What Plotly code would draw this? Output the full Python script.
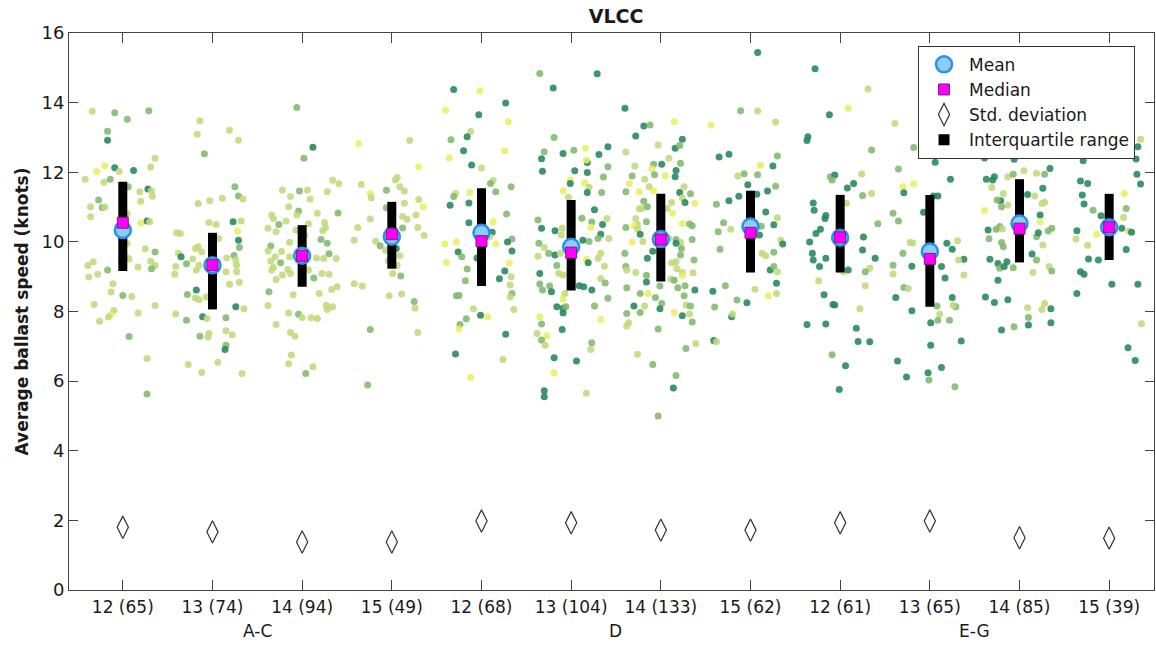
import plotly.graph_objects as go

# ---------------- data ----------------
categories = ["12 (65)", "13 (74)", "14 (94)", "15 (49)",
              "12 (68)", "13 (104)", "14 (133)", "15 (62)",
              "12 (61)", "13 (65)", "14 (85)", "15 (39)"]
groups = ["A-C", "D", "E-G"]
group_pos = [2.5, 6.5, 10.5]

mean_vals = [10.34, 9.33, 9.60, 10.15, 10.26, 9.86, 10.08, 10.44, 10.12, 9.72, 10.53, 10.42]
median_vals = [10.55, 9.33, 9.60, 10.22, 10.02, 9.69, 10.07, 10.26, 10.13, 9.51, 10.38, 10.42]
q1_vals = [9.16, 8.06, 8.71, 9.23, 8.73, 8.60, 8.86, 9.12, 9.12, 8.14, 9.41, 9.48]
q3_vals = [11.73, 10.26, 10.48, 11.15, 11.54, 11.20, 11.38, 11.47, 11.35, 11.35, 11.80, 11.38]
std_vals = [1.80, 1.67, 1.38, 1.38, 1.98, 1.93, 1.72, 1.72, 1.93, 1.98, 1.50, 1.49]

# individual ships: (offset from category, speed, shade class 0=yellow .. 3=dark green)
pts_1 = [(-0.34,13.75,1),(-0.09,13.71,2),(0.05,13.52,2),(0.29,13.77,2),(-0.17,13.18,2),(-0.17,12.92,3),
         (0.36,12.40,1),(0.31,12.15,1),(-0.20,12.19,0),(-0.29,12.02,0),(-0.09,12.13,3),(-0.04,12.02,1),
         (0.12,12.05,3),(-0.42,11.80,1),(-0.21,11.71,1),(-0.14,11.80,2),(0.28,11.52,3),(0.32,11.47,1),
         (0.19,11.44,1),(0.06,11.58,2),(0.33,11.31,1),(0.20,11.17,1),(-0.27,11.20,2),(-0.36,11.01,1),
         (-0.23,10.99,2),(-0.20,11.00,1),(-0.36,10.72,1),(0.27,10.60,3),(0.20,10.54,0),(0.30,10.58,1),
         (0.25,9.80,1),(0.36,9.71,2),(0.07,9.51,1),(0.31,9.44,1),(0.36,9.32,1),(0.32,9.23,2),(0.17,9.28,1),
         (-0.39,9.32,1),(-0.33,9.43,1),(-0.38,8.99,1),(-0.28,9.07,1),(-0.17,9.19,2),(-0.11,8.80,1),
         (-0.13,8.56,1),(0.00,8.46,2),(0.10,8.43,1),(-0.32,8.20,1),(0.36,8.17,1),(0.17,7.96,1),
         (-0.10,8.03,1),(-0.13,7.91,0),(-0.16,7.84,1),(-0.26,7.72,1),(0.07,7.28,2),(0.27,6.65,1),
         (0.27,5.63,2),(0.05,10.80,1),(0.05,9.95,1),(0.04,9.55,1)]
pts_2 = [(-0.14,13.48,1),(-0.17,13.09,1),(0.19,13.21,1),(0.29,12.92,1),(-0.09,12.53,2),(0.25,11.58,2),
         (0.29,11.32,2),(0.34,11.23,1),(0.11,11.25,1),(-0.03,11.18,1),(-0.16,11.10,1),(-0.04,10.56,1),
         (0.04,10.50,1),(0.23,10.58,3),(0.32,10.60,1),(0.28,10.31,0),(0.29,10.05,3),(0.30,9.84,2),
         (0.07,10.10,1),(-0.40,10.26,1),(-0.36,10.24,1),(-0.38,9.67,1),(-0.35,9.57,3),(-0.29,9.37,2),
         (-0.22,9.51,1),(-0.19,9.81,1),(-0.16,9.86,1),(-0.12,9.71,1),(-0.18,9.19,1),(-0.15,9.33,1),
         (-0.41,9.29,1),(-0.42,9.07,1),(0.16,9.54,1),(0.24,9.61,2),(0.26,9.48,1),(0.27,9.33,1),
         (0.27,9.14,1),(0.15,9.14,1),(0.19,8.78,1),(0.30,8.84,1),(-0.18,8.62,3),(-0.28,8.49,2),
         (-0.19,8.39,1),(-0.15,8.34,1),(-0.07,8.42,1),(0.26,8.14,3),(0.35,8.08,1),(-0.41,7.93,1),
         (-0.29,7.75,2),(-0.11,7.85,3),(-0.06,7.80,1),(0.15,7.82,2),(0.15,7.45,1),(0.22,7.33,1),
         (-0.14,7.29,2),(-0.04,7.37,1),(-0.05,7.27,1),(0.15,7.03,2),(0.14,6.91,3),(0.06,6.54,1),
         (-0.27,6.48,1),(-0.12,6.25,1),(0.33,6.22,1)]
pts_3 = [(-0.06,13.86,2),(0.12,12.72,3),(0.02,12.40,2),(0.34,11.77,1),(0.41,11.67,1),(-0.03,11.46,2),
         (0.06,11.49,1),(-0.22,11.49,1),(-0.13,11.30,1),(0.09,11.23,1),(0.28,11.44,1),(-0.15,11.01,1),
         (-0.04,10.89,2),(-0.06,10.77,1),(0.17,10.82,1),(0.40,10.83,2),(-0.34,10.77,1),(-0.32,10.67,1),
         (-0.18,10.60,1),(0.07,10.52,1),(0.25,10.56,1),(-0.26,10.50,2),(-0.38,10.39,1),(-0.29,10.29,1),
         (-0.07,10.34,1),(0.23,10.32,1),(0.26,10.41,1),(0.03,10.20,1),(0.21,10.07,2),(0.28,9.96,2),
         (-0.35,9.88,2),(-0.14,9.99,1),(-0.38,9.74,1),(-0.23,9.72,1),(-0.14,9.57,1),(-0.30,9.57,1),
         (0.30,9.66,2),(0.16,9.54,1),(0.24,9.52,1),(0.38,9.52,1),(-0.35,9.45,1),(-0.32,9.27,1),
         (-0.24,9.40,2),(-0.34,9.19,1),(-0.16,9.21,1),(0.07,9.19,1),(0.22,9.09,1),(0.30,9.07,1),
         (0.13,8.96,2),(-0.29,8.92,1),(-0.22,9.05,1),(-0.13,9.09,1),(-0.37,8.57,2),(-0.10,8.48,1),
         (0.19,8.52,1),(0.33,8.63,1),(0.39,8.71,1),(-0.38,8.17,1),(-0.04,7.92,2),(-0.15,7.96,1),
         (0.00,7.83,1),(0.10,7.82,1),(0.17,7.80,1),(0.28,8.06,1),(0.27,8.18,1),(0.34,8.14,1),
         (-0.29,7.63,1),(-0.13,7.40,1),(-0.08,7.29,1),(-0.12,6.75,1),(-0.15,6.50,1),(0.12,6.41,1),
         (0.04,6.22,2)]
pts_4 = [(0.20,12.91,1),(-0.37,12.82,0),(0.30,12.16,0),(0.06,11.85,1),(0.04,11.78,1),(-0.34,11.65,1),
         (-0.06,11.48,2),(0.09,11.58,1),(0.14,11.46,1),(-0.24,11.39,0),(-0.23,11.27,1),(0.14,11.11,1),
         (0.30,11.22,1),(0.35,11.01,0),(-0.06,10.98,2),(0.27,10.77,1),(0.17,10.65,1),(-0.24,10.66,1),
         (0.12,10.73,1),(-0.38,10.41,1),(0.29,10.41,1),(0.36,10.18,1),(0.12,10.40,2),(-0.18,10.02,1),
         (-0.13,9.89,2),(-0.42,10.05,1),(-0.07,9.76,1),(0.09,9.60,1),(-0.04,9.46,1),(0.06,9.33,1),
         (0.01,9.09,1),(0.10,9.02,2),(-0.42,8.80,1),(-0.33,8.73,1),(-0.03,8.45,1),(0.11,8.50,1),
         (0.25,8.29,2),(0.26,8.10,1),(-0.24,7.48,2),(0.29,7.40,1),(-0.27,5.89,2),(0.05,9.81,3)]
pts_5 = [(-0.31,14.38,3),(-0.02,14.34,0),(0.27,13.99,3),(-0.40,13.78,0),(-0.03,13.65,3),(0.30,13.45,0),
         (-0.12,13.17,1),(-0.16,13.02,3),(-0.34,12.93,2),(-0.20,12.62,3),(0.26,12.61,0),(-0.36,12.41,0),
         (-0.11,12.21,3),(0.00,12.12,1),(0.13,11.76,1),(0.10,11.68,2),(0.33,11.58,2),(0.16,11.44,2),
         (-0.29,11.39,1),(-0.31,11.30,2),(-0.13,11.42,0),(-0.35,11.05,3),(-0.14,11.12,3),(0.28,10.80,2),
         (-0.14,10.55,3),(0.13,10.58,0),(0.12,10.28,3),(0.09,10.15,1),(-0.41,9.94,0),(-0.28,10.00,0),
         (0.16,9.94,0),(0.34,10.08,2),(0.29,10.00,3),(-0.26,9.71,3),(-0.22,9.57,2),(-0.05,9.54,3),
         (0.34,9.74,3),(-0.39,9.41,0),(0.31,9.40,0),(-0.16,9.22,2),(0.26,9.16,3),(0.20,8.94,3),
         (-0.18,8.88,2),(0.33,9.00,1),(0.32,8.76,1),(0.34,8.52,2),(0.32,8.42,1),(-0.28,8.45,2),
         (-0.25,8.46,2),(-0.09,8.08,1),(0.36,8.06,1),(-0.01,7.89,3),(0.07,7.85,0),(-0.17,7.79,2),
         (-0.24,7.63,2),(-0.25,7.50,0),(0.27,7.35,3),(-0.29,6.78,3),(0.24,6.62,1),(-0.12,6.11,0)]
pts_6 = [(-0.35,14.84,2),(0.29,14.83,3),(-0.20,14.42,3),(-0.19,13.00,2),(0.41,12.73,3),(0.16,12.69,0),
         (0.03,12.63,2),(-0.30,12.59,2),(-0.09,12.54,3),(-0.33,12.39,3),(0.31,12.51,3),(0.18,12.28,3),
         (0.17,12.35,0),(0.41,12.16,2),(-0.32,12.03,3),(0.04,12.04,3),(0.18,11.99,3),(0.36,11.86,2),
         (-0.01,11.78,0),(-0.01,11.68,3),(0.15,11.70,0),(0.20,11.57,1),(-0.09,11.47,0),(0.18,11.42,3),
         (0.34,11.42,2),(-0.03,11.28,1),(0.26,10.92,3),(0.40,10.67,1),(0.12,10.68,2),(0.23,10.57,2),
         (-0.37,10.63,2),(-0.33,10.39,3),(-0.18,10.32,3),(-0.10,10.39,1),(-0.11,10.20,1),(0.22,10.42,0),
         (0.35,10.50,3),(0.33,10.22,3),(0.30,10.10,2),(0.20,10.01,2),(0.13,10.05,3),(0.42,10.10,1),
         (-0.36,9.96,2),(-0.30,9.84,1),(-0.25,9.67,2),(-0.18,9.62,3),(-0.12,9.67,1),(-0.37,9.59,1),
         (-0.16,9.32,2),(0.33,9.67,1),(0.30,9.53,1),(0.37,9.30,1),(0.17,9.50,0),(0.19,9.40,3),
         (-0.35,9.09,3),(-0.14,9.10,1),(-0.09,9.05,1),(-0.35,8.79,2),(-0.32,8.62,2),(-0.24,8.73,2),
         (-0.22,8.57,3),(0.09,8.74,3),(0.14,8.71,3),(0.23,8.62,3),(0.33,8.95,1),(0.38,8.82,2),
         (-0.07,8.52,1),(-0.09,8.36,0),(0.41,8.38,2),(-0.16,8.14,3),(-0.09,8.09,3),(-0.06,8.14,2),
         (-0.09,7.96,3),(0.26,8.16,2),(0.33,7.77,0),(-0.35,7.85,0),(-0.33,7.64,2),(-0.10,7.48,3),
         (-0.38,7.37,1),(-0.27,7.30,0),(-0.33,7.18,2),(-0.29,7.03,1),(0.23,7.10,2),(0.22,6.91,1),
         (-0.19,6.67,3),(0.06,6.58,3),(-0.19,6.24,0),(-0.30,5.72,3),(-0.30,5.55,3),(0.17,5.65,1)]
pts_7 = [(-0.40,13.84,3),(-0.19,13.33,3),(-0.12,13.36,2),(0.15,13.45,0),(-0.28,13.04,3),(-0.03,12.78,1),
         (0.24,12.95,3),(0.16,12.69,3),(0.21,12.77,2),(-0.39,12.58,1),(0.09,12.40,1),(-0.08,12.23,2),
         (0.01,12.23,3),(-0.10,12.10,0),(0.22,12.26,2),(-0.29,12.18,1),(0.17,12.05,3),(-0.32,11.89,2),
         (-0.07,11.93,2),(0.05,11.90,0),(-0.18,11.80,1),(0.16,11.87,3),(-0.35,11.68,0),(-0.13,11.58,1),
         (0.26,11.58,1),(-0.08,11.47,0),(-0.39,11.44,2),(-0.24,11.44,0),(0.21,11.42,3),(0.33,11.38,2),
         (0.24,11.26,1),(0.27,11.13,3),(0.38,11.10,0),(-0.19,11.17,2),(-0.21,10.96,1),(-0.15,11.01,2),
         (0.12,11.13,1),(-0.24,10.95,1),(0.07,10.96,1),(0.13,10.82,0),(-0.39,10.41,2),(-0.28,10.67,1),
         (-0.26,10.50,1),(-0.16,10.58,2),(-0.30,10.46,0),(-0.26,10.37,1),(-0.23,10.22,3),(0.24,10.53,0),
         (0.32,10.51,2),(0.35,10.46,2),(-0.32,10.00,0),(-0.20,10.01,1),(0.09,10.10,1),(0.17,10.07,2),
         (0.22,9.99,1),(0.17,9.96,3),(0.23,9.81,2),(0.35,10.07,2),(-0.40,9.67,2),(-0.09,9.73,3),
         (0.22,9.62,2),(-0.15,9.53,3),(0.12,9.40,1),(0.17,9.43,1),(0.37,9.48,2),(0.18,9.23,1),
         (0.24,9.12,1),(-0.39,9.29,2),(-0.28,9.12,1),(-0.38,9.19,1),(-0.16,9.04,2),(0.24,9.03,0),
         (0.36,9.11,1),(0.11,8.93,1),(0.15,8.90,2),(-0.16,8.85,3),(-0.01,8.73,2),(0.27,8.74,2),
         (0.19,8.68,2),(-0.38,8.68,2),(0.38,8.62,3),(-0.23,8.52,2),(-0.14,8.52,0),(-0.06,8.40,2),
         (0.26,8.45,2),(0.01,8.23,2),(-0.30,8.16,3),(-0.18,8.16,1),(-0.01,8.08,3),(-0.38,7.94,2),
         (-0.23,7.97,2),(0.28,8.19,1),(0.33,8.16,2),(0.15,7.97,0),(0.24,7.88,3),(0.32,7.93,1),
         (-0.36,7.68,1),(-0.38,7.58,1),(0.35,7.70,2),(-0.03,7.50,2),(0.28,6.94,2),(0.39,7.08,1),
         (-0.26,6.77,1),(-0.09,6.48,2),(0.17,6.16,2),(0.14,5.80,3),(-0.03,5.00,2)]
pts_8 = [(0.08,15.44,3),(-0.11,13.77,2),(0.08,13.76,1),(-0.44,13.36,0),(0.28,13.44,1),(-0.35,12.44,3),
         (-0.24,12.52,3),(0.30,12.47,2),(0.11,12.20,0),(0.25,12.18,3),(-0.07,11.96,2),(-0.14,11.89,1),
         (0.08,11.93,2),(0.28,11.60,2),(-0.03,11.64,3),(0.19,11.46,3),(0.07,11.37,3),(-0.13,11.31,3),
         (-0.24,11.18,3),(-0.38,11.08,2),(0.17,10.86,3),(0.30,10.69,1),(-0.30,10.55,2),(-0.22,10.36,1),
         (-0.36,10.29,2),(0.26,10.49,3),(0.12,10.45,2),(0.10,10.20,3),(0.34,10.05,1),(0.36,9.94,3),
         (-0.34,9.79,2),(0.13,9.67,1),(0.17,9.60,1),(0.26,9.70,2),(0.22,9.19,3),(0.26,9.29,2),
         (0.30,9.14,1),(0.29,8.81,3),(0.29,8.52,1),(0.20,8.45,0),(0.05,8.64,1),(-0.28,8.74,2),
         (-0.42,8.58,3),(-0.15,8.33,2),(-0.04,8.25,3),(-0.40,8.13,2),(-0.21,7.85,3),(-0.20,7.93,1),
         (-0.41,7.17,3),(-0.38,7.13,1)]
pts_9 = [(-0.28,14.97,3),(0.31,14.39,1),(0.09,13.84,0),(-0.12,13.65,3),(-0.36,13.02,3),(-0.37,12.91,3),
         (0.35,12.64,2),(-0.11,11.87,2),(-0.06,11.92,3),(-0.09,11.78,2),(0.24,11.95,1),(0.15,11.68,3),
         (0.08,11.55,3),(0.25,11.33,2),(0.35,11.39,1),(-0.30,11.12,3),(-0.29,10.91,3),(-0.16,10.76,3),
         (-0.17,10.67,3),(0.07,11.11,1),(0.42,10.52,2),(-0.22,10.36,3),(-0.27,10.24,3),(-0.34,10.00,3),
         (0.26,10.14,3),(-0.31,9.67,3),(-0.16,9.53,3),(-0.30,9.48,3),(-0.23,9.29,3),(0.25,9.77,3),
         (0.39,9.53,3),(0.04,9.14,1),(0.09,9.19,3),(0.33,9.24,1),(0.28,9.14,2),(-0.24,8.88,1),
         (0.28,8.74,1),(-0.18,8.48,3),(-0.08,8.20,3),(-0.06,8.19,3),(0.22,8.08,1),(-0.37,7.63,3),
         (-0.16,7.64,3),(0.18,7.52,3),(0.20,7.14,3),(0.33,7.13,3),(-0.09,6.76,2),(0.06,6.44,3),
         (-0.01,5.76,3)]
pts_10 = [(-0.39,13.40,1),(-0.18,12.71,2),(-0.04,12.69,3),(0.00,12.58,3),(0.06,12.29,3),(0.24,12.52,0),
          (0.37,12.66,0),(0.33,12.73,3),(-0.35,12.09,2),(0.23,11.80,3),(-0.30,11.58,0),(-0.18,11.66,0),
          (-0.29,11.41,3),(0.04,11.32,3),(0.09,11.32,3),(-0.41,10.82,2),(-0.35,10.60,2),(-0.07,10.85,3),
          (-0.22,9.98,1),(-0.19,9.97,1),(-0.30,9.67,2),(-0.41,9.33,2),(-0.20,9.30,3),(-0.41,9.08,1),
          (0.13,9.29,3),(0.17,8.96,3),(0.19,9.96,3),(0.25,9.79,3),(0.31,10.03,1),(0.38,9.50,3),
          (0.32,9.48,1),(0.38,9.05,1),(-0.29,8.69,2),(-0.24,8.66,1),(-0.38,8.40,3),(-0.20,8.02,3),
          (0.08,8.16,2),(0.25,8.40,3),(0.29,8.14,2),(0.26,8.18,1),(0.11,7.93,1),(0.09,7.75,2),
          (0.22,7.75,2),(0.01,7.68,3),(0.35,7.15,3),(0.01,7.03,3),(-0.36,6.58,3),(0.13,6.39,3),
          (-0.02,6.24,3),(-0.01,6.03,2),(-0.26,6.12,3),(0.28,5.84,2)]
pts_11 = [(-0.13,12.75,1),(0.11,12.49,0),(0.38,12.81,3),(-0.39,12.41,3),(-0.06,12.37,3),(-0.37,11.80,3),
          (-0.28,11.87,3),(-0.30,11.78,3),(-0.13,11.87,1),(-0.07,11.94,2),(0.05,12.04,1),(0.19,11.97,1),
          (0.28,11.94,2),(0.34,12.11,3),(0.26,11.54,3),(-0.31,11.56,1),(-0.18,11.39,1),(-0.21,11.18,3),
          (-0.25,11.20,2),(-0.13,11.06,1),(0.09,11.36,3),(0.17,11.32,1),(0.28,11.14,1),(0.25,11.10,1),
          (-0.39,10.90,0),(-0.20,11.01,2),(0.23,10.77,3),(0.23,10.58,0),(-0.22,10.44,2),(-0.19,10.37,1),
          (-0.26,10.36,2),(-0.35,10.34,3),(-0.34,10.09,2),(0.19,10.15,2),(0.21,10.26,3),(0.32,10.31,2),
          (0.36,10.39,2),(-0.20,9.98,2),(-0.18,9.86,2),(0.26,9.91,1),(0.14,9.65,3),(-0.33,9.50,3),
          (-0.24,9.38,3),(-0.22,9.24,2),(-0.17,9.29,3),(-0.07,9.26,2),(-0.14,9.43,3),(0.19,9.48,2),
          (0.33,9.29,1),(0.36,9.16,2),(0.15,9.12,1),(-0.24,8.90,3),(-0.38,8.42,3),(-0.28,8.26,3),
          (-0.13,8.34,3),(0.09,8.11,1),(0.28,8.23,1),(0.25,8.06,1),(0.35,8.08,3),(0.10,7.83,2),
          (0.10,7.61,3),(-0.06,7.56,2),(-0.20,7.47,3),(0.35,7.68,3),(-0.25,13.10,3),(0.10,13.30,2),
          (0.30,12.95,1),(-0.05,13.60,3)]
pts_12 = [(0.09,12.64,1),(0.13,12.67,1),(0.30,12.38,3),(-0.29,12.33,3),(0.31,11.94,3),(0.35,11.66,3),
          (-0.32,11.75,3),(-0.24,11.68,3),(0.17,11.39,0),(-0.30,11.35,3),(-0.28,11.09,3),(-0.18,10.91,2),
          (0.19,10.96,2),(-0.09,10.75,3),(0.16,10.70,1),(0.22,10.31,1),(0.25,10.28,3),(0.14,10.39,3),
          (-0.36,10.32,3),(-0.37,10.08,1),(-0.24,9.90,1),(-0.14,10.22,0),(0.19,9.78,3),(-0.23,9.51,3),
          (-0.12,9.48,3),(-0.32,9.14,3),(-0.28,9.07,3),(0.03,8.78,3),(0.32,8.78,3),(-0.36,8.52,3),
          (0.36,7.65,1),(0.21,6.96,3),(0.29,6.59,3),(0.32,12.73,3),(-0.27,12.60,3),(0.35,12.95,1)]

all_points = [pts_1, pts_2, pts_3, pts_4, pts_5, pts_6, pts_7, pts_8, pts_9, pts_10, pts_11, pts_12]

# ---------------- figure ----------------
FONT = "DejaVu Sans, Verdana, sans-serif"
TXT = "#1a1a1a"
AX = "#444444"
shade_scale = [[0.0, "#e8ef62"], [0.333, "#c0d97a"], [0.667, "#82b86e"], [1.0, "#24885a"]]

px, py, pc = [], [], []
for i, pts in enumerate(all_points, start=1):
    for dx, y, c in pts:
        px.append(i + dx)
        py.append(y)
        pc.append(c)

xpos = list(range(1, len(categories) + 1))

fig = go.Figure()

fig.add_trace(go.Scatter(
    x=px, y=py, mode="markers", showlegend=False, hoverinfo="skip",
    marker=dict(size=7, color=pc, colorscale=shade_scale, cmin=0, cmax=3,
                opacity=0.88, line=dict(width=0))))

# interquartile range bars
iqr_x, iqr_y = [], []
for i, a, b in zip(xpos, q1_vals, q3_vals):
    iqr_x += [i, i, None]
    iqr_y += [a, b, None]
fig.add_trace(go.Scatter(x=iqr_x, y=iqr_y, mode="lines", showlegend=False,
                         hoverinfo="skip", line=dict(color="black", width=9)))

fig.add_trace(go.Scatter(
    x=xpos, y=mean_vals, mode="markers", name="Mean", legendrank=1,
    marker=dict(symbol="circle", size=16, color="#8ccdf8",
                line=dict(color="#2a8ff0", width=2.5))))
fig.add_trace(go.Scatter(
    x=xpos, y=median_vals, mode="markers", name="Median", legendrank=2,
    marker=dict(symbol="square", size=11, color="#ff00ff",
                line=dict(color="#7a2070", width=1))))
fig.add_trace(go.Scatter(
    x=xpos, y=std_vals, mode="markers", name="Std. deviation", legendrank=3,
    marker=dict(symbol="diamond-tall-open", size=16, color="#333333",
                line=dict(width=1.2))))
fig.add_trace(go.Scatter(
    x=[None], y=[None], mode="markers", name="Interquartile range", legendrank=4,
    marker=dict(symbol="square", size=11, color="black")))

for g, gp in zip(groups, group_pos):
    fig.add_annotation(x=gp, y=0, xref="x", yref="y", text=g, showarrow=False,
                       yanchor="middle", yshift=-41, font=dict(size=17, color=TXT, family=FONT))

fig.update_layout(
    width=1156, height=645,
    margin=dict(l=69, r=2, t=33, b=55, autoexpand=False),
    paper_bgcolor="white", plot_bgcolor="white",
    font=dict(family=FONT, size=17, color=TXT),
    title=dict(text="<b>VLCC</b>", x=0.533, xanchor="center", y=0.975, yanchor="middle",
               font=dict(size=19, color=TXT, family=FONT)),
    legend=dict(x=0.7825, y=0.977, xanchor="left", yanchor="top",
                bgcolor="white", bordercolor="#333333", borderwidth=1,
                font=dict(size=17, color=TXT, family=FONT),
                itemwidth=40, tracegroupgap=0),
    xaxis=dict(range=[0.4, 12.5], tickvals=xpos, ticktext=categories,
               showgrid=False, zeroline=False, showline=True, linecolor=AX,
               linewidth=1, mirror="ticks", ticks="inside", ticklen=10, tickcolor=AX,
               tickfont=dict(size=17, color=TXT), ticklabelstandoff=2),
    yaxis=dict(range=[0, 16], dtick=2, showgrid=False, zeroline=False, showline=True,
               linecolor=AX, linewidth=1, mirror="ticks", ticks="inside", ticklen=9,
               tickcolor=AX, tickfont=dict(size=18, color=TXT),
               title=dict(text="<b>Average ballast speed (knots)</b>", standoff=8,
                          font=dict(size=17, color=TXT))),
)

fig.write_html("out.html", config={"displayModeBar": False},
               post_script="document.body.style.margin='0';document.body.style.overflow='hidden';")
